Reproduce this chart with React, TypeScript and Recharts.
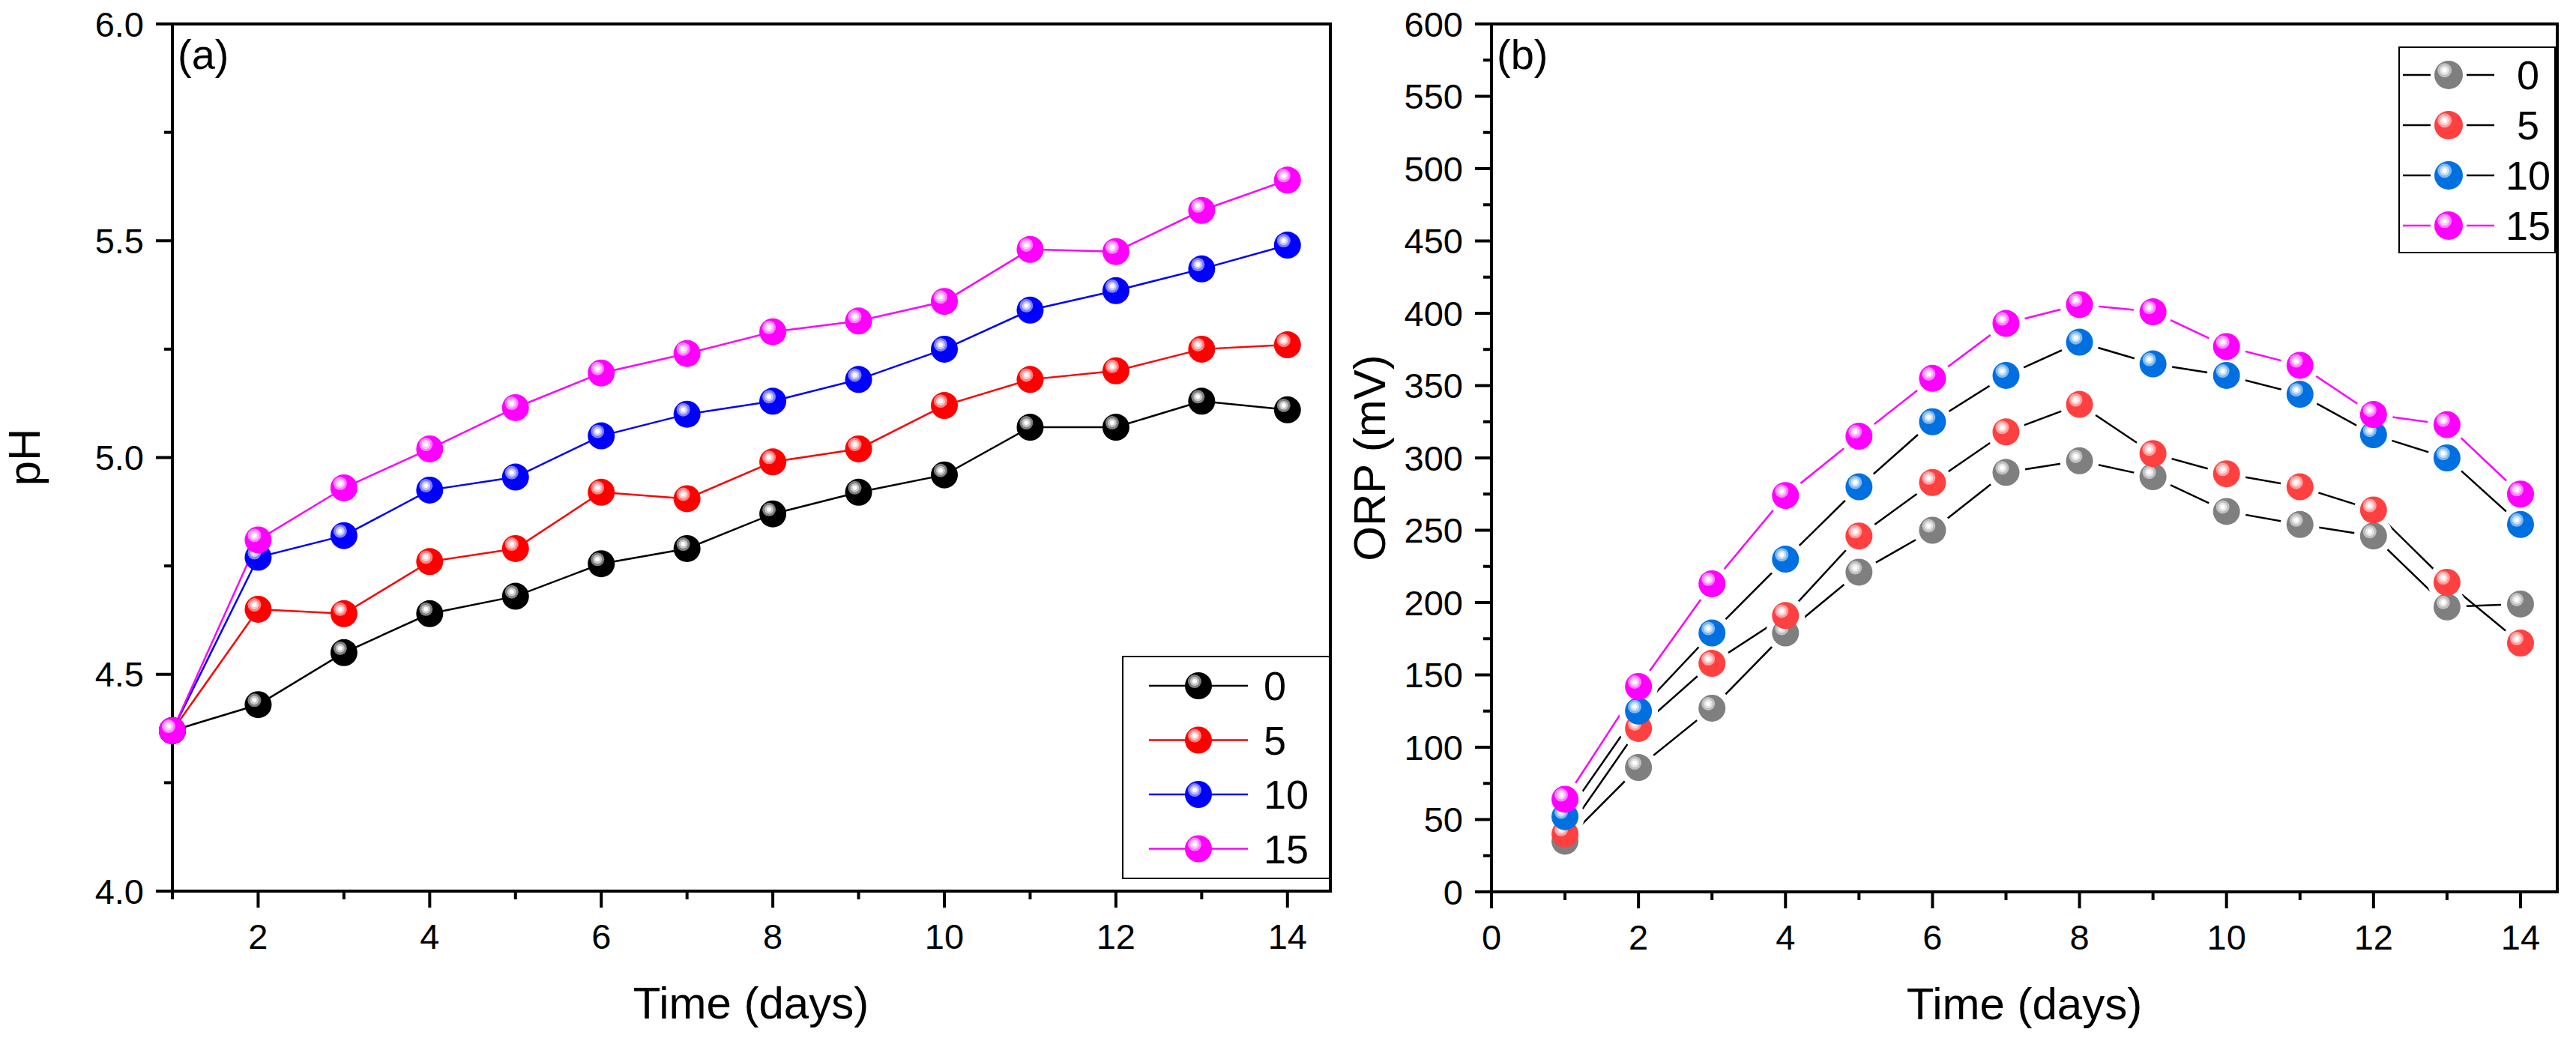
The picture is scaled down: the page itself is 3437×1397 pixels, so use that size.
import React from 'react';
import { LineChart, Line, XAxis, YAxis, Legend } from 'recharts';

// ---- data ----
const DAYS = [1, 2, 3, 4, 5, 6, 7, 8, 9, 10, 11, 12, 13, 14];
const DOSES = ['0', '5', '10', '15'];

const PH_0 = [4.37, 4.43, 4.55, 4.64, 4.68, 4.755, 4.79, 4.87, 4.92, 4.96, 5.07, 5.07, 5.13, 5.11];
const PH_5 = [4.37, 4.65, 4.64, 4.76, 4.79, 4.92, 4.905, 4.99, 5.02, 5.12, 5.18, 5.2, 5.25, 5.26];
const PH_10 = [4.37, 4.77, 4.82, 4.925, 4.955, 5.05, 5.1, 5.13, 5.18, 5.25, 5.34, 5.385, 5.435, 5.49];
const PH_15 = [4.37, 4.81, 4.93, 5.02, 5.115, 5.195, 5.24, 5.29, 5.315, 5.36, 5.48, 5.475, 5.57, 5.64];

const ORP_0 = [35, 86, 127, 179, 221, 250, 290, 298, 287, 263, 254, 246, 197, 199];
const ORP_5 = [40, 113, 158, 191, 246, 283, 318, 337, 303, 289, 280, 264, 214, 172];
const ORP_10 = [52, 125, 179, 230, 280, 325, 357, 380, 365, 357, 344, 316, 300, 254];
const ORP_15 = [64, 142, 213, 274, 315, 355, 393, 406, 401, 377, 364, 330, 323, 275];

const PH_TICKS = [4, 4.25, 4.5, 4.75, 5, 5.25, 5.5, 5.75, 6];
const ORP_TICKS = [
  0, 25, 50, 75, 100, 125, 150, 175, 200, 225, 250, 275, 300, 325, 350, 375, 400, 425, 450, 475, 500, 525, 550, 575,
  600,
];
const DAY_TICKS_A = [1, 2, 3, 4, 5, 6, 7, 8, 9, 10, 11, 12, 13, 14];
const DAY_TICKS_B = [0, 1, 2, 3, 4, 5, 6, 7, 8, 9, 10, 11, 12, 13, 14];

const PH_COLORS = ['#000000', '#ff0000', '#0000ff', '#ff00ff'];
const ORP_BALLS = ['#7f7f7f', '#ff4040', '#0070e0', '#ff00ff'];
const ORP_LINES = ['#000000', '#000000', '#000000', '#ff00ff'];

const KEYS = ['s0', 's5', 's10', 's15'];

const phRows = DAYS.map((d, i) => ({ day: d, s0: PH_0[i], s5: PH_5[i], s10: PH_10[i], s15: PH_15[i] }));
const orpRows = DAYS.map((d, i) => ({ day: d, s0: ORP_0[i], s5: ORP_5[i], s10: ORP_10[i], s15: ORP_15[i] }));

// ---- styling ----
const FONT = '"Liberation Sans", Arial, Helvetica, sans-serif';
const TICK_FS = 47;
const TITLE_FS = 60;
const LEGEND_FS = 54;
const AXIS = { stroke: '#000', strokeWidth: 4, strokeLinecap: 'square' as const };
const MAJOR = 22;
const MINOR = 11;

function mix(hex: string, t: number) {
  const n = parseInt(hex.slice(1), 16);
  const ch = [(n >> 16) & 255, (n >> 8) & 255, n & 255].map((c) => Math.round(c + (255 - c) * t));
  return `rgb(${ch[0]},${ch[1]},${ch[2]})`;
}

function Ball({ cx, cy, color, r = 18 }: { cx?: number; cy?: number; color: string; r?: number }) {
  if (cx == null || cy == null) return null;
  const hx = cx - r * 0.28;
  const hy = cy - r * 0.33;
  return (
    <g>
      <circle cx={cx} cy={cy} r={r} fill={color} />
      <circle cx={hx} cy={hy} r={r * 0.5} fill={mix(color, 0.5)} />
      <circle cx={hx} cy={hy} r={r * 0.33} fill={mix(color, 0.78)} />
      <circle cx={hx} cy={hy} r={r * 0.17} fill="#fff" />
    </g>
  );
}

const isMajorPH = (v: number) => Math.abs(v * 2 - Math.round(v * 2)) < 1e-6;
const isMajorORP = (v: number) => v % 50 === 0;
const isEven = (v: number) => v % 2 === 0;

function leftTick(isMajor: (v: number) => boolean, fmt: (v: number) => string) {
  return (p: any) => {
    const v = p.payload.value;
    const major = isMajor(v);
    return (
      <g>
        <line x1={p.x} x2={p.x - (major ? MAJOR : MINOR)} y1={p.y} y2={p.y} stroke="#000" strokeWidth={4} />
        {major && (
          <text x={p.x - 38} y={p.y} textAnchor="end" dominantBaseline="central" fontFamily={FONT} fontSize={TICK_FS} fill="#000">
            {fmt(v)}
          </text>
        )}
      </g>
    );
  };
}

function bottomTick(p: any) {
  const v = p.payload.value;
  const major = isEven(v);
  return (
    <g>
      <line x1={p.x} x2={p.x} y1={p.y} y2={p.y + (major ? MAJOR : MINOR)} stroke="#000" strokeWidth={4} />
      {major && (
        <text x={p.x} y={p.y + 77} textAnchor="middle" fontFamily={FONT} fontSize={TICK_FS} fill="#000">
          {v}
        </text>
      )}
    </g>
  );
}

function rightInnerTick(p: any) {
  const v = p.payload.value;
  const major = isMajorORP(v);
  return <line x1={p.x} x2={p.x - (major ? MAJOR : MINOR)} y1={p.y} y2={p.y} stroke="#000" strokeWidth={4} />;
}

function legendBox(colors: string[], lines: string[], w: number, h: number, rowTop: number, rowGap: number, gapped: boolean) {
  return () => (
    <svg width={w} height={h} style={{ display: 'block' }}>
      <rect x={1} y={1} width={w - 2} height={h - 2} fill="#fff" stroke="#000" strokeWidth={2} />
      {DOSES.map((d, i) => {
        const y = rowTop + i * rowGap;
        return (
          <g key={d}>
            {gapped ? (
              <>
                <line x1={6} x2={43} y1={y} y2={y} stroke={lines[i]} strokeWidth={2.5} />
                <line x1={91} x2={128} y1={y} y2={y} stroke={lines[i]} strokeWidth={2.5} />
                <Ball cx={67} cy={y} color={colors[i]} r={19} />
                <text x={173} y={y} textAnchor="middle" dominantBaseline="central" fontFamily={FONT} fontSize={LEGEND_FS}>
                  {d}
                </text>
              </>
            ) : (
              <>
                <line x1={36} x2={168} y1={y} y2={y} stroke={lines[i]} strokeWidth={2.5} />
                <Ball cx={102} cy={y} color={colors[i]} r={18} />
                <text x={189} y={y} dominantBaseline="central" fontFamily={FONT} fontSize={LEGEND_FS}>
                  {d}
                </text>
              </>
            )}
          </g>
        );
      })}
    </svg>
  );
}

function PhChart() {
  return (
    <LineChart width={1800} height={1397} data={phRows} margin={{ top: 31, right: 24, bottom: 108, left: 80 }}>
      <XAxis
        dataKey="day"
        type="number"
        domain={[1, 14.5]}
        ticks={DAY_TICKS_A}
        interval={0}
        height={100}
        axisLine={AXIS}
        tickLine={false}
        tickSize={0}
        tickMargin={0}
        tick={bottomTick}
        label={() => (
          <text x={1002} y={1359} textAnchor="middle" fontFamily={FONT} fontSize={TITLE_FS}>
            Time (days)
          </text>
        )}
      />
      <XAxis
        xAxisId="top"
        orientation="top"
        dataKey="day"
        type="number"
        domain={[1, 14.5]}
        height={1}
        tick={false}
        tickLine={false}
        axisLine={AXIS}
        label={() => (
          <text x={237} y={92} fontFamily={FONT} fontSize={56}>
            (a)
          </text>
        )}
      />
      <YAxis
        type="number"
        domain={[4, 6]}
        ticks={PH_TICKS}
        interval={0}
        width={150}
        axisLine={AXIS}
        tickLine={false}
        tickSize={0}
        tickMargin={0}
        tick={leftTick(isMajorPH, (v) => v.toFixed(1))}
        label={() => (
          <text x={53} y={610} transform="rotate(-90 53 610)" textAnchor="middle" fontFamily={FONT} fontSize={TITLE_FS}>
            pH
          </text>
        )}
      />
      <YAxis yAxisId="right" orientation="right" type="number" domain={[4, 6]} width={1} tick={false} tickLine={false} axisLine={AXIS} />
      {KEYS.map((k, i) => (
        <Line key={'l' + k} dataKey={k} stroke={PH_COLORS[i]} strokeWidth={2.5} dot={false} activeDot={false} legendType="none" isAnimationActive={false} />
      ))}
      {KEYS.map((k, i) => (
        <Line
          key={'d' + k}
          dataKey={k}
          stroke="none"
          strokeWidth={0}
          dot={(p: any) => <Ball key={p.index} cx={p.cx} cy={p.cy} color={PH_COLORS[i]} />}
          activeDot={false}
          legendType="none"
          isAnimationActive={false}
        />
      ))}
      <Legend
        layout="vertical"
        align="center"
        verticalAlign="middle"
        wrapperStyle={{ left: 1497, top: 875, width: 278, height: 298 }}
        content={legendBox(PH_COLORS, PH_COLORS, 278, 298, 40, 72.5, false)}
      />
    </LineChart>
  );
}

function OrpChart() {
  return (
    <LineChart width={1687} height={1397} data={orpRows} margin={{ top: 31, right: 24, bottom: 107, left: 90 }}>
      <XAxis
        dataKey="day"
        type="number"
        domain={[0, 14.5]}
        ticks={DAY_TICKS_B}
        interval={0}
        height={100}
        axisLine={AXIS}
        tickLine={false}
        tickSize={0}
        tickMargin={0}
        tick={bottomTick}
        label={() => (
          <text x={951} y={1360} textAnchor="middle" fontFamily={FONT} fontSize={TITLE_FS}>
            Time (days)
          </text>
        )}
      />
      <XAxis
        xAxisId="top"
        orientation="top"
        dataKey="day"
        type="number"
        domain={[0, 14.5]}
        height={1}
        tick={false}
        tickLine={false}
        axisLine={AXIS}
        label={() => (
          <text x={247} y={92} fontFamily={FONT} fontSize={56}>
            (b)
          </text>
        )}
      />
      <YAxis
        type="number"
        domain={[0, 600]}
        ticks={ORP_TICKS}
        interval={0}
        width={150}
        axisLine={AXIS}
        tickLine={false}
        tickSize={0}
        tickMargin={0}
        tick={leftTick(isMajorORP, (v) => String(v))}
        label={() => (
          <text x={98} y={611} transform="rotate(-90 98 611)" textAnchor="middle" fontFamily={FONT} fontSize={TITLE_FS}>
            ORP (mV)
          </text>
        )}
      />
      <YAxis
        yAxisId="right"
        orientation="right"
        type="number"
        domain={[0, 600]}
        ticks={ORP_TICKS}
        interval={0}
        width={1}
        axisLine={AXIS}
        tickLine={false}
        tickSize={0}
        tickMargin={0}
        tick={rightInnerTick}
      />
      {KEYS.map((k, i) => (
        <Line key={'l' + k} dataKey={k} stroke={ORP_LINES[i]} strokeWidth={2.5} dot={false} activeDot={false} legendType="none" isAnimationActive={false} />
      ))}
      {KEYS.map((k) => (
        <Line
          key={'h' + k}
          dataKey={k}
          stroke="none"
          strokeWidth={0}
          dot={(p: any) => (p.cx == null ? null : <circle key={p.index} cx={p.cx} cy={p.cy} r={26} fill="#fff" />)}
          activeDot={false}
          legendType="none"
          isAnimationActive={false}
        />
      ))}
      {KEYS.map((k, i) => (
        <Line
          key={'d' + k}
          dataKey={k}
          stroke="none"
          strokeWidth={0}
          dot={(p: any) => <Ball key={p.index} cx={p.cx} cy={p.cy} color={ORP_BALLS[i]} />}
          activeDot={false}
          legendType="none"
          isAnimationActive={false}
        />
      ))}
      <Legend
        layout="vertical"
        align="center"
        verticalAlign="middle"
        wrapperStyle={{ left: 1450, top: 62, width: 210, height: 276 }}
        content={legendBox(ORP_BALLS, ORP_LINES, 210, 276, 38, 67, true)}
      />
    </LineChart>
  );
}

export default function App() {
  return (
    <div style={{ position: 'relative', width: 3437, height: 1397, background: '#fff' }}>
      <style>{'body{margin:0}'}</style>
      <div style={{ position: 'absolute', left: 0, top: 0 }}>
        <PhChart />
      </div>
      <div style={{ position: 'absolute', left: 1750, top: 0 }}>
        <OrpChart />
      </div>
    </div>
  );
}
